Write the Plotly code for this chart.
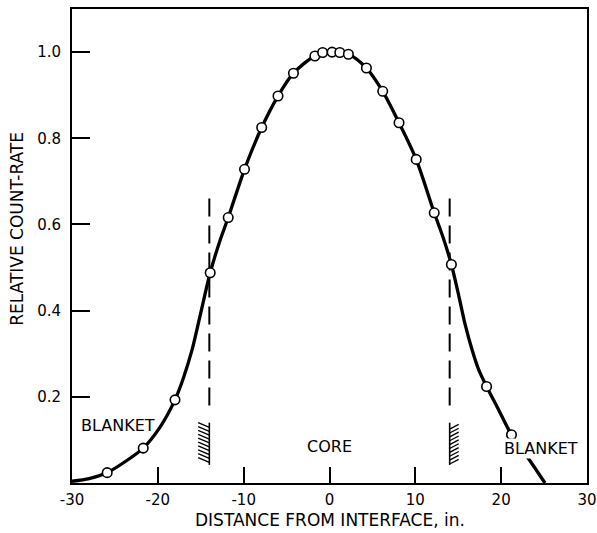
import plotly.graph_objects as go

# Measured relative count-rate across the core/blanket interface
x_pts = [-25.9, -21.7, -18.0, -13.9, -11.8, -9.9, -7.9, -6.0, -4.2, -1.7, -0.8,
         0.3, 1.2, 2.2, 4.3, 6.2, 8.1, 10.1, 12.2, 14.2, 18.3, 21.2]
y_pts = [0.024, 0.081, 0.193, 0.488, 0.616, 0.728, 0.825, 0.898, 0.951, 0.991, 0.999,
         1.000, 0.999, 0.995, 0.963, 0.909, 0.836, 0.751, 0.627, 0.507, 0.224, 0.112]

# Smooth hand-drawn curve through the measurements
x_curve = [-30.0, -28.0, -26.0, -24.0, -21.7, -19.8, -18.0, -17.0, -16.0, -15.0,
           -13.9, -12.8, -11.8, -9.9, -7.9, -6.0, -4.2, -1.7, 0.3, 2.2, 4.3, 6.2,
           8.1, 10.1, 12.2, 13.2, 14.2, 15.0, 15.8, 16.6, 17.4, 18.3, 19.7, 21.2,
           22.9, 25.1]
y_curve = [0.004, 0.010, 0.023, 0.047, 0.081, 0.128, 0.193, 0.245, 0.310, 0.395,
           0.488, 0.560, 0.616, 0.728, 0.825, 0.898, 0.951, 0.991, 1.000, 0.995,
           0.963, 0.909, 0.836, 0.751, 0.627, 0.572, 0.507, 0.440, 0.368, 0.310,
           0.262, 0.224, 0.170, 0.112, 0.065, 0.0]

x_ticks = [-30, -20, -10, 0, 10, 20, 30]
x_tick_text = ["-30", "-20", "-10", "0", "10", "20", "30"]
y_ticks = [0.2, 0.4, 0.6, 0.8, 1.0]
y_tick_text = ["0.2", "0.4", "0.6", "0.8", "1.0"]

# Core/blanket interface positions and region labels
interfaces = [-14.0, 14.0]
region_labels = ["BLANKET", "CORE", "BLANKET"]
region_x = [-24.65, 0.0, 24.6]
region_y = [0.133, 0.084, 0.081]

FONT = "DejaVu Sans"
INK = "black"

fig = go.Figure()

fig.add_trace(go.Scatter(
    x=x_curve, y=y_curve, mode="lines",
    line=dict(color=INK, width=3.3, shape="spline", smoothing=0.8),
    hoverinfo="skip", showlegend=False,
))
fig.add_trace(go.Scatter(
    x=x_pts, y=y_pts, mode="markers",
    marker=dict(size=9.5, color="white", line=dict(color=INK, width=1.6)),
    showlegend=False,
))

shapes = []
# dashed interface lines
for xi in interfaces:
    shapes.append(dict(type="line", xref="x", yref="y", x0=xi, x1=xi, y0=0.18, y1=0.68,
                       line=dict(color=INK, width=2, dash="18px,9px"), layer="below"))

# hatched wall symbols at each interface
hatch_top, hatch_bot = 0.140, 0.050
n_hatch = 10
step = (hatch_top - hatch_bot) / n_hatch
for side, xi in zip([-1, 1], interfaces):
    shapes.append(dict(type="line", xref="x", yref="y", x0=xi, x1=xi,
                       y0=hatch_bot - 0.008, y1=hatch_top,
                       line=dict(color=INK, width=1.6)))
    width = 1.3 if side < 0 else 1.05
    for k in range(n_hatch):
        yk = hatch_top - k * step
        if side < 0:
            shapes.append(dict(type="line", xref="x", yref="y",
                               x0=xi - width, y0=yk, x1=xi, y1=yk - 0.011,
                               line=dict(color=INK, width=1.3)))
        else:
            shapes.append(dict(type="line", xref="x", yref="y",
                               x0=xi, y0=yk - 0.015, x1=xi + width, y1=yk - 0.004,
                               line=dict(color=INK, width=1.3)))

annotations = []
for i, (txt, xa, ya) in enumerate(zip(region_labels, region_x, region_y)):
    annotations.append(dict(
        x=xa, y=ya, xref="x", yref="y", text=txt, showarrow=False,
        font=dict(family=FONT, size=16, color=INK),
        bgcolor="white" if i == 2 else None, borderpad=0,
        xanchor="center", yanchor="middle",
    ))

annotations.append(dict(
    x=0.5006, y=-0.078, xref="paper", yref="paper",
    text="DISTANCE FROM INTERFACE, in.", showarrow=False,
    font=dict(family=FONT, size=17, color=INK), xanchor="center", yanchor="middle",
))
annotations.append(dict(
    x=-0.107, y=0.536, xref="paper", yref="paper",
    text="RELATIVE COUNT-RATE", showarrow=False, textangle=-90,
    font=dict(family=FONT, size=17, color=INK), xanchor="center", yanchor="middle",
))

fig.update_layout(
    width=597, height=533,
    margin=dict(l=72, r=10, t=9, b=50, autoexpand=False),
    paper_bgcolor="white", plot_bgcolor="white",
    shapes=shapes, annotations=annotations,
    xaxis=dict(range=[-30, 30], tickvals=x_ticks, ticktext=x_tick_text,
               ticks="inside", ticklen=16, tickwidth=2, tickcolor=INK,
               showline=True, linecolor=INK, linewidth=2, mirror=True,
               showgrid=False, zeroline=False, ticklabelstandoff=2, automargin=False,
               tickfont=dict(family=FONT, size=15, color=INK)),
    yaxis=dict(range=[0, 1.1], tickvals=y_ticks, ticktext=y_tick_text,
               ticks="inside", ticklen=18, tickwidth=2, tickcolor=INK,
               showline=True, linecolor=INK, linewidth=2, mirror=True,
               showgrid=False, zeroline=False, ticklabelstandoff=6, automargin=False,
               tickfont=dict(family=FONT, size=15, color=INK)),
)

fig.write_html("out.html")
